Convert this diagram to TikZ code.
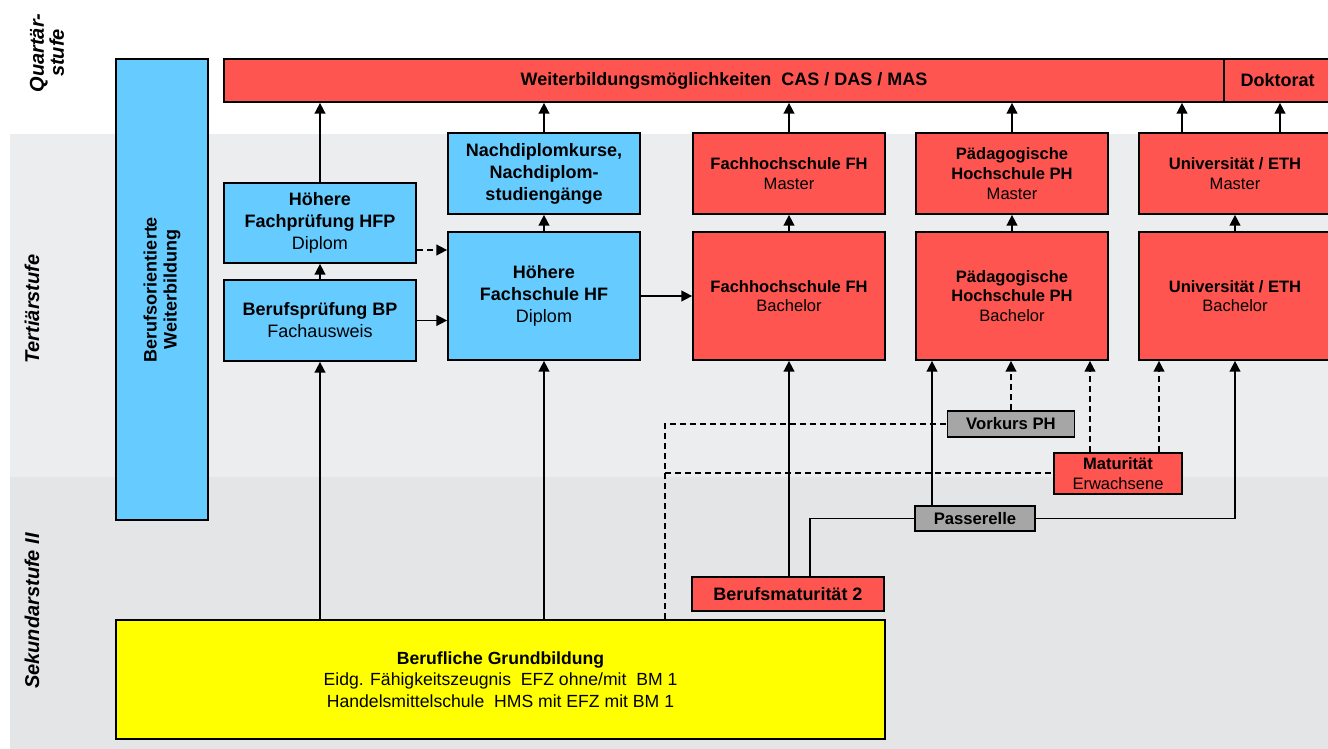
\documentclass[tikz,border=0pt]{standalone}
\usepackage{fontspec}
\setmainfont{Liberation Sans}
\usetikzlibrary{arrows.meta,calc}

\definecolor{bfblue}{HTML}{66CCFF}
\definecolor{bfred}{HTML}{FF5550}
\definecolor{bfyellow}{HTML}{FFFF00}
\definecolor{bfgray}{HTML}{A6A6A6}
\definecolor{bandtert}{HTML}{ECEDEF}
\definecolor{bandsek}{HTML}{E4E5E7}

\begin{document}
\begin{tikzpicture}[x=0.75pt,y=-0.75pt,
  box/.style={draw,line width=1.3pt,align=center,inner sep=0pt},
  bluebox/.style={box,fill=bfblue,minimum width=144pt,font=\fontsize{13.5}{16.5}\selectfont},
  redbox/.style={box,fill=bfred,minimum width=144pt,font=\fontsize{12.4}{14.75}\selectfont},
  graybox/.style={box,fill=bfgray,font=\fontsize{12.5}{15}\selectfont\bfseries},
  stage/.style={rotate=90,align=center,font=\fontsize{15}{15}\selectfont\bfseries\itshape},
  arr/.style={-{Triangle[length=8pt,width=8pt]},line width=1.2pt},
  dline/.style={dash pattern=on 4.5pt off 3pt,line width=1.2pt}]

\useasboundingbox (0,0) rectangle (1328,749);
% Stufen
\fill[bandtert] (10,134) rectangle (1328,477);
\fill[bandsek] (10,477) rectangle (1328,749);
\node[stage] (quart) at (47,53) {Quartär-\\stufe};
\node[stage] (tert) at (32,309) {Tertiärstufe};
\node[stage] (sek) at (32,611) {Sekundarstufe II};

% Quartaerstufe
\node[box,fill=bfblue,rotate=90,minimum width=345.75pt,minimum height=69pt,
  font=\fontsize{13.5}{15}\selectfont\bfseries] (weiter) at (162,289.5) {Berufsorientierte\\Weiterbildung};
\node[box,fill=bfred,minimum width=750pt,minimum height=32.25pt,
  font=\fontsize{13.5}{15}\selectfont\bfseries] (cas) at (724,80.5) {Weiterbildungsmöglichkeiten\ \ CAS / DAS / MAS};
\node[box,fill=bfred,minimum width=80.25pt,minimum height=32.25pt,
  font=\fontsize{13.5}{15}\selectfont\bfseries] (dok) at (1277.5,80.5) {Doktorat};

% Tertiaerstufe
\node[bluebox,minimum height=60pt] (hfp) at (320,223) {\textbf{Höhere}\\\textbf{Fachprüfung HFP}\\Diplom};
\node[bluebox,minimum height=60.75pt] (bp) at (320,320.5) {\textbf{Berufsprüfung BP}\\Fachausweis};
\node[bluebox,minimum height=60.75pt] (ndk) at (544,173.5) {\textbf{Nachdiplomkurse,}\\\textbf{Nachdiplom-}\\\textbf{studiengänge}};
\node[bluebox,minimum height=96pt] (hf) at (544,296) {\textbf{Höhere}\\\textbf{Fachschule HF}\\Diplom};
\node[redbox,minimum height=60.75pt] (fhm) at (789,173.5) {\textbf{Fachhochschule FH}\\Master};
\node[redbox,minimum height=96pt] (fhb) at (789,296) {\textbf{Fachhochschule FH}\\Bachelor};
\node[redbox,minimum height=60.75pt] (phm) at (1012,173.5) {\textbf{Pädagogische}\\\textbf{Hochschule PH}\\Master};
\node[redbox,minimum height=96pt] (phb) at (1012,296) {\textbf{Pädagogische}\\\textbf{Hochschule PH}\\Bachelor};
\node[redbox,minimum height=60.75pt] (unim) at (1235,173.5) {\textbf{Universität / ETH}\\Master};
\node[redbox,minimum height=96pt] (unib) at (1235,296) {\textbf{Universität / ETH}\\Bachelor};
\node[graybox,minimum width=95.25pt,minimum height=19.5pt] (vorkurs) at (1011,424) {Vorkurs PH};
\node[redbox,minimum width=96pt,minimum height=30.75pt] (matur) at (1118,473.5) {\textbf{Maturität}\\Erwachsene};
\node[graybox,minimum width=90pt,minimum height=18.75pt] (pass) at (975,518.5) {Passerelle};

% Sekundarstufe II
\node[box,fill=bfred,minimum width=144pt,minimum height=25.5pt,
  font=\fontsize{13.5}{15}\selectfont\bfseries] (bm2) at (788,594) {Berufsmaturität 2};
\node[box,fill=bfyellow,minimum width=576.75pt,minimum height=89.25pt,
  font=\fontsize{13.2}{16}\selectfont] (grund) at (500.5,679.5)
  {\textbf{Berufliche Grundbildung}\\Eidg. Fähigkeitszeugnis\ \ EFZ ohne/mit\ \ BM 1\\Handelsmittelschule\ \ HMS mit EFZ mit BM 1};

% Pfeile nach oben
\draw[arr] (hfp) -- (hfp |- cas.south);
\draw[arr] (ndk) -- (ndk |- cas.south);
\draw[arr] (fhm) -- (fhm |- cas.south);
\draw[arr] (phm) -- (phm |- cas.south);
\coordinate (u1) at ($(unim.north)+(-53,0)$);
\coordinate (u2) at ($(unim.north)+(45,0)$);
\draw[arr] (u1) -- (u1 |- cas.south);
\draw[arr] (u2) -- (u2 |- dok.south);
\draw[arr] (bp) -- (hfp);
\draw[arr] (hf) -- (ndk);
\draw[arr] (fhb) -- (fhm);
\draw[arr] (phb) -- (phm);
\draw[arr] (unib) -- (unim);

% Pfeile nach rechts
\draw[arr,dline] ([yshift=-20.25pt]hfp.east) -- ([yshift=-20.25pt]hfp.east -| hf.west);
\draw[arr] (bp.east) -- (bp.east -| hf.west);
\draw[arr] (hf) -- (fhb);

% aus der Grundbildung
\draw[arr] (grund.north -| bp) -- (bp);
\draw[arr] (grund.north -| hf) -- (hf);
\draw[arr] (bm2.north -| fhb) -- (fhb);
\coordinate (split) at (665,473);
\draw[dline] (grund.north -| split) |- (vorkurs.west);
\draw[dline] (split) -- (split -| matur.west);
\draw[arr,dline] (vorkurs) -- (vorkurs |- phb.south);
\coordinate (ma) at ($(matur.north)+(-28,0)$);
\coordinate (mb) at ($(matur.north)+(41,0)$);
\draw[arr,dline] (ma) -- (ma |- phb.south);
\draw[arr,dline] (mb) -- (mb |- unib.south);

% Passerelle
\coordinate (bmp) at ($(bm2.north)+(22,0)$);
\draw[line width=1.2pt] (bmp) |- (pass.west);
\coordinate (pa) at ($(pass.north)+(-43,0)$);
\draw[arr] (pa) -- (pa |- phb.south);
\draw[arr] (pass.east) -| (unib.south);
\end{tikzpicture}
\end{document}
